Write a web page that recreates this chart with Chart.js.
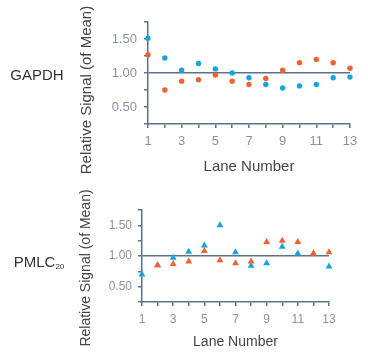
<!DOCTYPE html>
<html>
<head>
<meta charset="utf-8">
<script src="https://cdn.jsdelivr.net/npm/chart.js@4"></script>
<style>
    body { margin: 0; background: #fff; }
    #wrap { position: relative; width: 368px; height: 358px; font-family: "Liberation Sans", Arial, sans-serif; }
    canvas { position: absolute; left: 0; }
    .lbl { position: absolute; color: #333; white-space: nowrap; transform: translate(-50%, -50%); }
    .ytitle { position: absolute; color: #444; white-space: nowrap; transform: translate(-50%, -50%) rotate(-90deg); }
    sub { font-size: 8px; vertical-align: -2px; }
</style>
</head>
<body>
<div id="wrap">
    <canvas id="gapdhChart" width="368" height="180" style="top:0"></canvas>
    <canvas id="pmlcChart" width="368" height="178" style="top:180px"></canvas>
    <div class="lbl" style="left:37px; top:74px; font-size:15px;">GAPDH</div>
    <div class="lbl" style="left:39px; top:262px; font-size:15px;">PMLC<sub>20</sub></div>
    <div class="ytitle" style="left:85px; top:90px; font-size:15px;">Relative Signal (of Mean)</div>
    <div class="ytitle" style="left:85px; top:268px; font-size:14px;">Relative Signal (of Mean)</div>
</div>
<script>
// Data
const lanes = [1, 2, 3, 4, 5, 6, 7, 8, 9, 10, 11, 12, 13];
const yTicks = [0.25, 0.5, 0.75, 1.0, 1.25, 1.5, 1.75];
const yLabeled = [0.5, 1.0, 1.5];

const gapdhBlue   = [1.51, 1.22, 1.04, 1.14, 1.06, 1.00, 0.93, 0.83, 0.78, 0.81, 0.83, 0.93, 0.94];
const gapdhOrange = [1.27, 0.75, 0.88, 0.90, 0.97, 0.88, 0.83, 0.92, 1.04, 1.15, 1.20, 1.15, 1.07];

const pmlcBlue    = [0.70, 0.85, 0.97, 1.07, 1.17, 1.50, 1.06, 0.84, 0.88, 1.15, 1.04, 1.04, 0.83];
const pmlcOrange  = [null, 0.85, 0.87, 0.91, 1.08, 0.93, 0.88, 0.91, 1.23, 1.25, 1.23, 1.04, 1.06];

// Styles
const BLUE = '#14a4de';
const ORANGE = '#f3622e';
const AXIS = '#5f7089';
const TICK_TEXT = '#8b91a5';

function toPoints(values) {
    return lanes.map((lane, i) => ({ x: lane, y: values[i] }));
}

// first series in the list is drawn on top
function makeChart(id, series, cfg) {
    const ctx = document.getElementById(id).getContext('2d');
    return new Chart(ctx, {
        type: 'scatter',
        data: {
            datasets: series.map(s => ({
                data: toPoints(s.values),
                backgroundColor: s.color,
                borderWidth: 0,
                clip: false,
                pointStyle: cfg.pointStyle,
                pointRadius: cfg.pointRadius,
                pointHoverRadius: cfg.pointRadius
            }))
        },
        options: {
            responsive: false,
            animation: false,
            devicePixelRatio: 1,
            plugins: { legend: { display: false }, tooltip: { enabled: false } },
            layout: { padding: { left: 0, right: cfg.padRight, top: cfg.padTop, bottom: 0 } },
            scales: {
                x: {
                    type: 'linear',
                    min: lanes[0],
                    max: lanes[lanes.length - 1],
                    afterFit: scale => { scale.height = cfg.xHeight; },
                    afterBuildTicks: scale => { scale.ticks = lanes.map(v => ({ value: v })); },
                    ticks: {
                        autoSkip: false,
                        maxRotation: 0,
                        padding: 6,
                        color: TICK_TEXT,
                        font: { family: 'Liberation Sans', size: cfg.tickSize },
                        callback: v => (v % 2 === 1 ? String(v) : '')
                    },
                    grid: { drawOnChartArea: false, tickLength: 4, color: AXIS, lineWidth: 1.5 },
                    border: { display: true, color: AXIS, width: 1.5 },
                    title: {
                        display: true,
                        text: 'Lane Number',
                        color: '#444',
                        font: { family: 'Liberation Sans', size: cfg.titleSize },
                        padding: { top: 0, bottom: cfg.titlePad }
                    }
                },
                y: {
                    type: 'linear',
                    min: yTicks[0],
                    max: yTicks[yTicks.length - 1],
                    afterFit: scale => { scale.width = cfg.yWidth; },
                    afterBuildTicks: scale => { scale.ticks = yTicks.map(v => ({ value: v })); },
                    ticks: {
                        autoSkip: false,
                        padding: cfg.yPad,
                        color: TICK_TEXT,
                        font: { family: 'Liberation Sans', size: cfg.tickSize },
                        callback: v => (yLabeled.includes(v) ? v.toFixed(2) : '')
                    },
                    grid: {
                        drawOnChartArea: true,
                        tickLength: 4,
                        lineWidth: 1.5,
                        color: c => (c.tick && c.tick.value === 1 ? AXIS : 'rgba(0,0,0,0)'),
                        tickColor: AXIS
                    },
                    border: { display: true, color: AXIS, width: 1.5 }
                }
            }
        }
    });
}

makeChart('gapdhChart', [
    { values: gapdhBlue, color: BLUE },
    { values: gapdhOrange, color: ORANGE }
], {
    pointStyle: 'circle', pointRadius: 2.7,
    padTop: 22, padRight: 18, xHeight: 56, yWidth: 148,
    tickSize: 13, titleSize: 15, titlePad: 4, yPad: 7
});

makeChart('pmlcChart', [
    { values: pmlcOrange, color: ORANGE },
    { values: pmlcBlue, color: BLUE }
], {
    pointStyle: 'triangle', pointRadius: 4,
    padTop: 30, padRight: 39, xHeight: 56, yWidth: 142,
    tickSize: 12, titleSize: 14, titlePad: 7, yPad: 6
});
</script>
</body>
</html>
